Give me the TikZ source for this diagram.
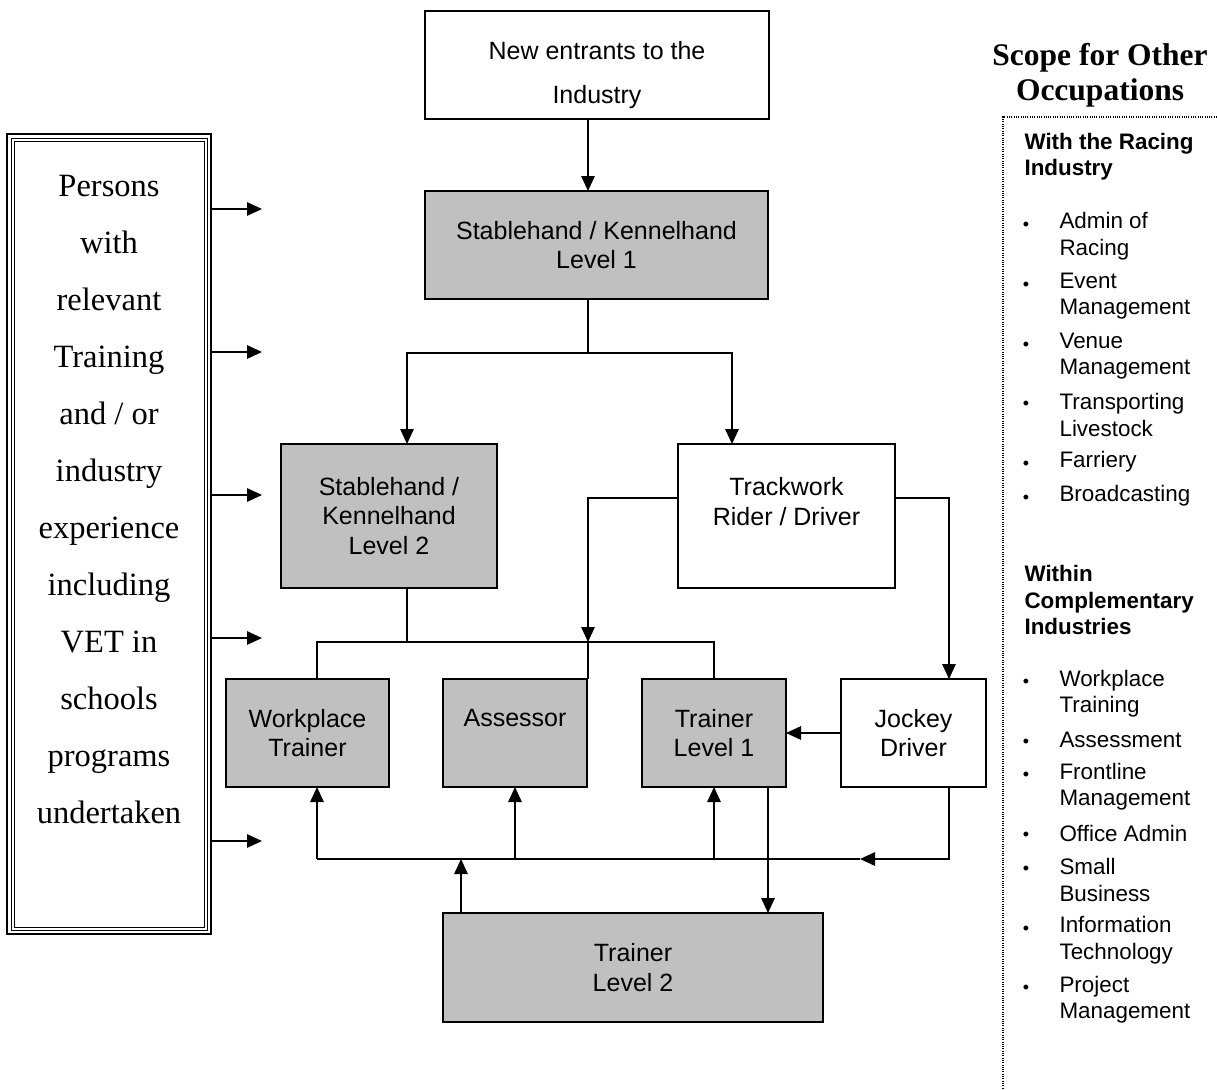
\documentclass[tikz,border=0pt]{standalone}
\usepackage{fontspec}
\setmainfont{Liberation Sans}
\newfontfamily\tnrfont{Liberation Serif}
\usetikzlibrary{arrows.meta}
\definecolor{boxgray}{HTML}{C0C0C0}
\tikzset{
  unit/.style={draw,line width=1.6pt,outer sep=0pt,align=center,
    font=\fontsize{25}{29.5}\selectfont},
  grayunit/.style={unit,fill=boxgray},
  link/.style={line width=1.3pt},
  scopehead/.style={anchor=west,align=left,font=\fontsize{22.4}{26.5}\selectfont\bfseries},
  scopeitem/.style={anchor=west,align=left,font=\fontsize{22.4}{26.5}\selectfont},
}
\begin{document}
\begin{tikzpicture}[x=1pt,y=-1pt,>={Triangle[length=15pt,width=13.5pt]}]
  \useasboundingbox (0,0) rectangle (1217,1089);
  % main chart
  \node[unit,minimum width=344,minimum height=108] (entr) at (597,65) {};
  \node[font=\fontsize{25}{44}\selectfont,align=center] (entrtxt) at (597,75)
    {New entrants to the\\Industry};
  \node[grayunit,minimum width=343,minimum height=108] (sk1) at (596.5,245)
    {Stablehand / Kennelhand\\Level 1};
  \node[grayunit,minimum width=216,minimum height=144] (sk2) at (389,516)
    {Stablehand /\\Kennelhand\\Level 2};
  \node[unit,minimum width=217,minimum height=144] (track) at (786.5,516)
    {Trackwork\\Rider / Driver\\~};
  \node[grayunit,minimum width=163,minimum height=108] (wpt) at (307.5,733)
    {Workplace\\Trainer};
  \node[grayunit,minimum width=144,minimum height=108] (assr) at (515,733)
    {Assessor\\~};
  \node[grayunit,minimum width=144,minimum height=108] (tr1) at (714,733)
    {Trainer\\Level 1};
  \node[unit,minimum width=145,minimum height=108] (jock) at (913.5,733)
    {Jockey\\Driver};
  \node[grayunit,minimum width=380,minimum height=109] (tr2) at (633,967.5)
    {Trainer\\Level 2};

  \coordinate (jA) at (588,353);
  \coordinate (jB) at (588,642);
  \coordinate (jC) at (461,859);
  \coordinate (jD) at (860,859);

  \draw[link,->] (entr.south -| jA) -- (sk1.north -| jA);
  \draw[link] (sk1.south -| jA) -- (jA);
  \draw[link,->] (jA) -| ([xshift=18pt]sk2.north);
  \draw[link,->] (jA) -| ([xshift=-54.5pt]track.north);
  \draw[link] ([xshift=18pt]sk2.south) -- ([xshift=18pt]sk2.south |- jB);
  \draw[link] ([xshift=9.5pt]wpt.north) |- (tr1.north |- jB) -- (tr1.north);
  \draw[link,->] ([yshift=18pt]track.west) -| (jB);
  \draw[link] (jB) -- (jB |- assr.north);
  \draw[link,->] ([yshift=18pt]track.east) -| ([xshift=35.5pt]jock.north);
  \draw[link,->] (jock.west) -- (tr1.east);
  % bottom bar
  \draw[link,->] ([xshift=35.5pt]jock.south) |- (jD);
  \draw[link] (jD) -- ([xshift=9.5pt]wpt.south |- jD);
  \draw[link,->] ([xshift=9.5pt]wpt.south |- jC) -- ([xshift=9.5pt]wpt.south);
  \draw[link,->] (assr.south |- jC) -- (assr.south);
  \draw[link,->] (tr1.south |- jC) -- (tr1.south);
  \draw[link,->] (tr2.north -| jC) -- (jC);
  \draw[link,->] ([xshift=54pt]tr1.south) -- ([xshift=54pt]tr1.south |- tr2.north);

  % left entry box
  \node[draw,line width=2pt,outer sep=0pt,minimum width=204,minimum height=800]
    (persons) at (109,534) {};
  \draw[line width=1pt] ([shift={(4,4)}]persons.north west) rectangle ([shift={(-4,-4)}]persons.south east);
  \draw[line width=1pt] ([shift={(7,7)}]persons.north west) rectangle ([shift={(-7,-7)}]persons.south east);
  \node[align=center,font=\tnrfont\fontsize{32.5}{57}\selectfont] (personstxt) at (109,500)
    {Persons\\with\\relevant\\Training\\and / or\\industry\\experience\\including\\VET in\\schools\\programs\\undertaken};
  \foreach \y [count=\i] in {209,352,495,638,841} {
    \coordinate (in\i) at (262,\y);
    \draw[link,->] (persons.east |- in\i) -- (in\i);
  }

  % scope column
  \node[align=center,font=\tnrfont\bfseries\fontsize{31.5}{35}\selectfont] (scope) at (1100,75)
    {Scope for Other\\Occupations};
  \draw[line width=1.2pt,dash pattern=on 1pt off 1.3pt] (1217,117) -- (1003,117) -- (1003,1089);
  \node[scopehead] (racing) at (1021,156.5) {With the Racing\\Industry};
  \node[scopehead] (compl) at (1021,600) {Within\\Complementary\\Industries};
  \foreach \yb/\yt/\txt in {223/236/{Admin of\\Racing},283/296/{Event\\Management},
      343/356/{Venue\\Management},402/415/{Transporting\\Livestock},462/462/Farriery,
      496/496/Broadcasting,680/693.5/{Workplace\\Training},740/740/Assessment,
      773/786.5/{Frontline\\Management},833/833/Office Admin,867/880/{Small\\Business},
      927/940/{Information\\Technology},986/999.5/{Project\\Management}} {
    \node[font=\fontsize{18}{18}\selectfont] (b\yb) at (1026,\yb+3) {\textbullet};
    \node[scopeitem] (t\yb) at (1056,\yt) {\txt};
  }
\end{tikzpicture}
\end{document}
